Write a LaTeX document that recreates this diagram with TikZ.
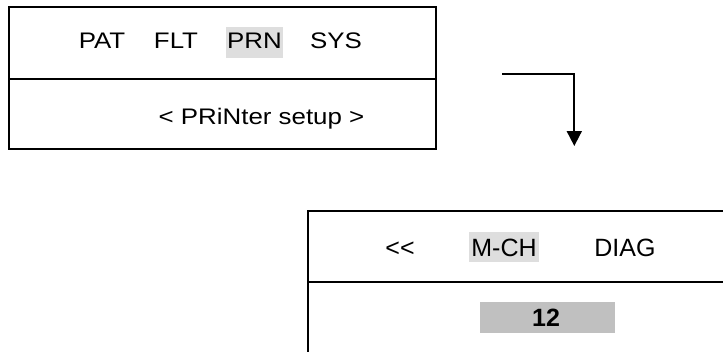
\documentclass[tikz,border=0pt]{standalone}
\usepackage{fontspec}
\setmainfont{Liberation Sans}
\newfontfamily\widefont[FakeStretch=1.15]{Liberation Sans}
\usetikzlibrary{arrows.meta}
\definecolor{hilite}{HTML}{DEDEDE}
\definecolor{valbox}{HTML}{C0C0C0}
\tikzset{
  frame/.style={line width=2pt, line cap=rect},
  toptext/.style={anchor=base, inner sep=0pt, font=\widefont\fontsize{22.5}{26}\selectfont},
  bottext/.style={anchor=base, inner sep=0pt, font=\fontsize{25}{29}\selectfont},
  valtext/.style={anchor=base, inner sep=0pt, font=\fontsize{25}{29}\selectfont\bfseries},
  conn/.style={line width=1.8pt, -{Triangle[width=15pt,length=15pt]}}
}
\begin{document}
\begin{tikzpicture}[x=1pt,y=-1pt]
\useasboundingbox (0,0) rectangle (723,351);
% top box
\draw[frame] (9,7) rectangle (436,149);
\draw[frame] (9,79) -- (436,79);
\fill[hilite] (226,27) rectangle (283,58);
\node[toptext] (pat) at (102,48.5) {PAT};
\node[toptext] (flt) at (176,48.5) {FLT};
\node[toptext] (prn) at (254.5,48.5) {PRN};
\node[toptext] (sys) at (336,48.5) {SYS};
\node[toptext] (setup) at (261.5,124) {< PRiNter setup >};
% arrow
\coordinate (a0) at (502,74.3);
\coordinate (a1) at (574.3,146);
\draw[conn] (a0) -| (a1);
% bottom box
\draw[frame] (723,211) -- (308.3,211) -- (308.3,352);
\draw[frame] (308.3,281.7) -- (723,281.7);
\fill[hilite] (469,232) rectangle (539,262);
\node[bottext] (back) at (400,256.5) {{<}\kern0pt{<}};
\node[bottext] (mch) at (504,256.5) {M-CH};
\node[bottext] (diag) at (625,256.5) {DIAG};
\fill[valbox] (480,302) rectangle (615,333);
\node[valtext] (val) at (546,326) {12};
\end{tikzpicture}
\end{document}
